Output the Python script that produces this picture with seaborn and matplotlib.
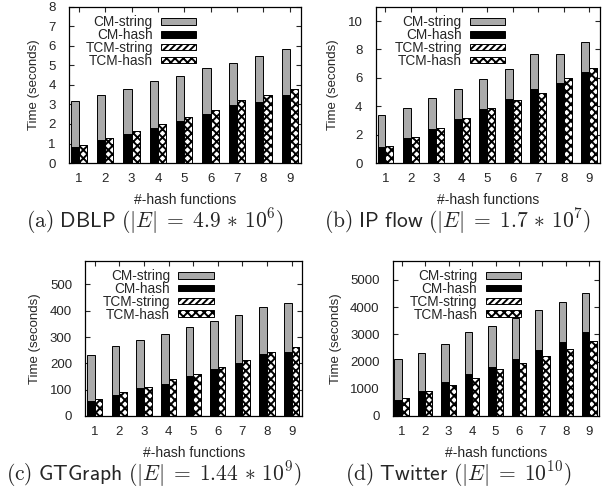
import pandas as pd
import seaborn as sns
import matplotlib.pyplot as plt
from matplotlib.patches import Patch

# number of hash functions
k = [1, 2, 3, 4, 5, 6, 7, 8, 9]

# (a) DBLP
dblp_cm_hash = [0.84, 1.18, 1.49, 1.82, 2.16, 2.52, 2.95, 3.12, 3.49]
dblp_cm_string = [2.34, 2.31, 2.29, 2.39, 2.31, 2.33, 2.20, 2.34, 2.35]
dblp_tcm_hash = [0.91, 1.30, 1.64, 2.00, 2.35, 2.70, 3.24, 3.48, 3.78]
dblp_tcm_string = [0, 0, 0, 0, 0, 0, 0, 0, 0]

# (b) IP flow
ip_cm_hash = [1.10, 1.75, 2.40, 3.10, 3.80, 4.50, 5.20, 5.65, 6.40]
ip_cm_string = [2.30, 2.15, 2.15, 2.15, 2.10, 2.10, 2.50, 2.00, 2.15]
ip_tcm_hash = [1.20, 1.85, 2.50, 3.20, 3.85, 4.45, 4.95, 6.00, 6.70]
ip_tcm_string = [0, 0, 0, 0, 0, 0, 0, 0, 0]

# (c) GTGraph
gt_cm_hash = [57, 80, 105, 122, 152, 178, 200, 237, 243]
gt_cm_string = [173, 185, 185, 190, 185, 182, 183, 176, 187]
gt_tcm_hash = [63, 90, 110, 140, 160, 188, 212, 245, 262]
gt_tcm_string = [0, 0, 0, 0, 0, 0, 0, 0, 0]

# (d) Twitter
tw_cm_hash = [600, 910, 1240, 1535, 1800, 2090, 2420, 2715, 3095]
tw_cm_string = [1490, 1420, 1410, 1535, 1490, 1520, 1460, 1465, 1435]
tw_tcm_hash = [660, 900, 1155, 1390, 1720, 1950, 2200, 2460, 2765]
tw_tcm_string = [0, 0, 0, 0, 0, 0, 0, 0, 0]

labels = ['CM-string', 'CM-hash', 'TCM-string', 'TCM-hash']

sns.set_style('ticks')
plt.rcParams['font.family'] = ['Liberation Sans', 'DejaVu Sans']
plt.rcParams['mathtext.fontset'] = 'cm'
plt.rcParams['hatch.linewidth'] = 1.4
plt.rcParams['hatch.color'] = 'black'

GRAY = '#aaaaaa'


def draw_panel(ax, cm_hash, cm_string, tcm_hash, tcm_string, ylim, yticks, leg_x):
    top = pd.DataFrame({
        'k': k + k,
        'method': ['CM'] * 9 + ['TCM'] * 9,
        'time': [h + s for h, s in zip(cm_hash, cm_string)] +
                [h + s for h, s in zip(tcm_hash, tcm_string)],
    })
    bottom = pd.DataFrame({
        'k': k + k,
        'method': ['CM'] * 9 + ['TCM'] * 9,
        'time': cm_hash + tcm_hash,
    })
    sns.barplot(data=top, x='k', y='time', hue='method', palette=[GRAY, 'white'],
                width=0.62, saturation=1, errorbar=None, legend=False,
                edgecolor='black', linewidth=0.7, ax=ax)
    sns.barplot(data=bottom, x='k', y='time', hue='method', palette=['black', 'white'],
                width=0.62, saturation=1, errorbar=None, legend=False,
                edgecolor='black', linewidth=0.7, ax=ax)
    for p in ax.containers[1]:
        p.set_hatch('/////')
    for p in ax.containers[3]:
        p.set_hatch('xxxx')

    ax.set_xlim(-0.38, 8.42)
    ax.set_ylim(*ylim)
    ax.set_yticks(yticks)
    ax.set_xlabel('#-hash functions', fontsize=10, labelpad=6)
    ax.set_ylabel('Time (seconds)', fontsize=9.5, labelpad=6)
    ax.tick_params(direction='in', top=True, right=True, length=3.5, width=0.8,
                   labelsize=9.5)
    ax.tick_params(axis='x', pad=7)
    ax.tick_params(axis='y', pad=9.5)
    for sp in ax.spines.values():
        sp.set_visible(True)
        sp.set_linewidth(0.9)
        sp.set_color('black')

    handles = [Patch(facecolor=GRAY, edgecolor='black', linewidth=0.7),
               Patch(facecolor='black', edgecolor='black', linewidth=0.7),
               Patch(facecolor='white', edgecolor='black', hatch='/////', linewidth=0.7),
               Patch(facecolor='white', edgecolor='black', hatch='xxxx', linewidth=0.7)]
    ax.legend(handles, labels, loc='upper right', bbox_to_anchor=(leg_x, 1.0),
              frameon=False, markerfirst=False, handlelength=2.6, handleheight=0.4,
              labelspacing=-0.08, fontsize=9.8, borderaxespad=0.2, borderpad=0.4,
              handletextpad=0.6)


fig = plt.figure(figsize=(6.09, 4.94), dpi=100)
ax_a = fig.add_axes([0.113, 0.670, 0.381, 0.316])
ax_b = fig.add_axes([0.617, 0.670, 0.368, 0.316])
ax_c = fig.add_axes([0.140, 0.158, 0.356, 0.314])
ax_d = fig.add_axes([0.645, 0.158, 0.339, 0.314])

draw_panel(ax_a, dblp_cm_hash, dblp_cm_string, dblp_tcm_hash, dblp_tcm_string,
           (0, 8), range(0, 9), 0.585)
draw_panel(ax_b, ip_cm_hash, ip_cm_string, ip_tcm_hash, ip_tcm_string,
           (0, 11), range(0, 11, 2), 0.615)
draw_panel(ax_c, gt_cm_hash, gt_cm_string, gt_tcm_hash, gt_tcm_string,
           (0, 590), range(0, 501, 100), 0.63)
draw_panel(ax_d, tw_cm_hash, tw_cm_string, tw_tcm_hash, tw_tcm_string,
           (0, 5700), range(0, 5001, 1000), 0.66)

cap = 15.5
fig.text(0.255, 0.553, r'$\mathrm{(a)}\ \mathsf{DBLP}\ ({|}E{|}\;=\;4.9\,*\,10^{6})$',
         ha='center', va='center', fontsize=cap)
fig.text(0.752, 0.553, r'$\mathrm{(b)}\ \mathsf{IP\ flow}\ ({|}E{|}\;=\;1.7\,*\,10^{7})$',
         ha='center', va='center', fontsize=cap)
fig.text(0.252, 0.04, r'$\mathrm{(c)}\ \mathsf{GTGraph}\ ({|}E{|}\;=\;1.44\,*\,10^{9})$',
         ha='center', va='center', fontsize=cap)
fig.text(0.752, 0.04, r'$\mathrm{(d)}\ \mathsf{Twitter}\ ({|}E{|}\;=\;10^{10})$',
         ha='center', va='center', fontsize=cap)

fig.savefig('out.png', dpi=100)
